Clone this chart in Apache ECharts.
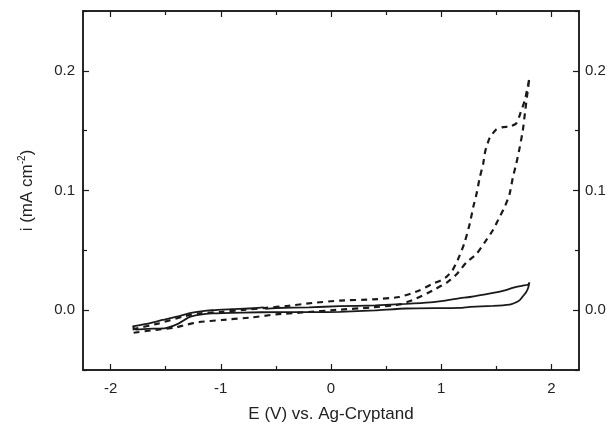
<!DOCTYPE html>
<html>
<head>
<meta charset="utf-8">
<script src="https://cdn.jsdelivr.net/npm/echarts@6/dist/echarts.min.js"></script>
<style>
  html, body { margin: 0; padding: 0; background: #fff; }
  #chart { width: 612px; height: 428px; }
</style>
</head>
<body>
<div id="chart"></div>
<script>
// solid loop: forward (upper) branch then return (lower) branch
const solidE = [-1.80, -1.65, -1.53, -1.40, -1.29, -1.18, -1.08, -0.90, -0.70, -0.62, -0.59, -0.50, -0.20, 0.08, 0.40, 0.68, 0.90, 1.05, 1.17, 1.26, 1.47, 1.56, 1.62, 1.68, 1.74, 1.79, 1.80,
  1.79, 1.77, 1.74, 1.71, 1.66, 1.62, 1.47, 1.26, 1.17, 0.68, 0.40, 0.08, -0.20, -0.47, -0.80, -1.08, -1.20, -1.29, -1.38, -1.50, -1.62, -1.77, -1.80]
const solidI = [-0.0135, -0.011, -0.0082, -0.0055, -0.0027, -0.001, 0.0, 0.0008, 0.0016, 0.0024, 0.0012, 0.0018, 0.0024, 0.0033, 0.0040, 0.0052, 0.0065, 0.0082, 0.0100, 0.0110, 0.0145, 0.0162, 0.0178, 0.0195, 0.0205, 0.0215, 0.0233,
  0.0190, 0.0150, 0.0115, 0.0082, 0.0058, 0.0047, 0.0036, 0.0027, 0.0019, 0.0014, -0.0002, -0.0014, -0.0016, -0.0016, -0.0020, -0.0027, -0.0040, -0.0060, -0.0110, -0.0150, -0.0155, -0.0162, -0.0135]

// dashed loop: forward (upper) branch then return (lower) branch
const dashedE = [-1.80, -1.56, -1.35, -1.20, -0.99, -0.80, -0.59, -0.40, -0.17, 0.08, 0.38, 0.62, 0.80, 0.92, 1.00, 1.05, 1.10, 1.15, 1.21, 1.26, 1.29, 1.32, 1.35, 1.38, 1.40, 1.44, 1.50, 1.56, 1.62, 1.68, 1.72, 1.76, 1.80,
  1.78, 1.76, 1.74, 1.71, 1.68, 1.65, 1.62, 1.575, 1.53, 1.47, 1.39, 1.32, 1.23, 1.14, 1.05, 0.92, 0.77, 0.62, 0.35, 0.08, -0.26, -0.50, -0.71, -0.99, -1.20, -1.32, -1.41, -1.59, -1.80]
const dashedI = [-0.0160, -0.0110, -0.0055, -0.0027, -0.0014, 0.0002, 0.0019, 0.0035, 0.0060, 0.0080, 0.0090, 0.0110, 0.0164, 0.0220, 0.0250, 0.0280, 0.0330, 0.0420, 0.0560, 0.0726, 0.0860, 0.0970, 0.1110, 0.1220, 0.1330, 0.1440, 0.1510, 0.1530, 0.1535, 0.1560, 0.1650, 0.1760, 0.1940,
  0.1800, 0.1650, 0.1500, 0.1350, 0.1220, 0.1110, 0.0970, 0.0860, 0.0780, 0.0670, 0.0560, 0.0470, 0.0400, 0.0300, 0.0230, 0.0164, 0.0096, 0.0047, 0.0022, 0.0004, -0.0019, -0.0035, -0.0060, -0.0082, -0.0100, -0.0123, -0.0145, -0.0164, -0.0190]

const xMajor = [-2, -1, 0, 1, 2]
const xMinor = [-1.5, -0.5, 0.5, 1.5]
const yMajor = [0, 0.1, 0.2]
const yMinor = [-0.05, 0.05, 0.15, 0.25]

const solidData = solidE.map((e, k) => [e, solidI[k]])
const dashedData = dashedE.map((e, k) => [e, dashedI[k]])

const font = '"Liberation Sans", Arial, sans-serif'
const ink = '#1a1a1a'

function xAx(position, ticks, len, withLabel) {
  return {
    type: 'value', position: position, min: -2.25, max: 2.25,
    splitLine: { show: false },
    axisLine: { show: true, onZero: false, lineStyle: { color: ink, width: 1.5 } },
    axisTick: { show: true, inside: true, length: len, customValues: ticks, lineStyle: { color: ink, width: 1.2 } },
    axisLabel: withLabel
      ? { show: true, customValues: ticks, margin: 11, color: '#222', fontFamily: font, fontSize: 15 }
      : { show: false }
  }
}

function yAx(position, ticks, len, labelMargin) {
  return {
    type: 'value', position: position, min: -0.05, max: 0.25,
    splitLine: { show: false },
    axisLine: { show: true, onZero: false, lineStyle: { color: ink, width: 1.5 } },
    axisTick: { show: true, inside: true, length: len, customValues: ticks, lineStyle: { color: ink, width: 1.2 } },
    axisLabel: labelMargin
      ? { show: true, customValues: ticks, margin: labelMargin, color: '#222', fontFamily: font, fontSize: 15,
          formatter: v => v.toFixed(1) }
      : { show: false }
  }
}

const chart = echarts.init(document.getElementById('chart'), null, { renderer: 'canvas' })

const xMain = xAx('bottom', xMajor, 6, true)
xMain.name = 'E (V) vs. Ag-Cryptand'
xMain.nameLocation = 'middle'
xMain.nameGap = 36
xMain.nameTextStyle = { color: '#222', fontFamily: font, fontSize: 17 }

const yMain = yAx('left', yMajor, 6, 8)
yMain.name = 'i (mA cm{sup|-2})'
yMain.nameLocation = 'middle'
yMain.nameGap = 46
yMain.nameTextStyle = {
  color: '#222', fontFamily: font, fontSize: 17,
  rich: { sup: { fontSize: 10, fontFamily: font, color: '#222', verticalAlign: 'top', lineHeight: 20 } }
}

chart.setOption({
  animation: false,
  backgroundColor: '#fff',
  grid: { left: 83, right: 33, top: 11, bottom: 52, containLabel: false },
  xAxis: [
    xMain,
    xAx('bottom', xMinor, 4, false),
    xAx('top', xMajor, 6, false),
    xAx('top', xMinor, 4, false)
  ],
  yAxis: [
    yMain,
    yAx('left', yMinor, 4, 0),
    yAx('right', yMajor, 6, 6),
    yAx('right', yMinor, 4, 0)
  ],
  series: [
    {
      name: 'solid', type: 'line', xAxisIndex: 0, yAxisIndex: 0,
      data: solidData, showSymbol: false, smooth: 0.2,
      lineStyle: { color: ink, width: 1.8 }
    },
    {
      name: 'dashed', type: 'line', xAxisIndex: 0, yAxisIndex: 0,
      data: dashedData, showSymbol: false, smooth: 0.2,
      lineStyle: { color: ink, width: 2.2, type: [6, 5] }
    }
  ]
})
</script>
</body>
</html>
